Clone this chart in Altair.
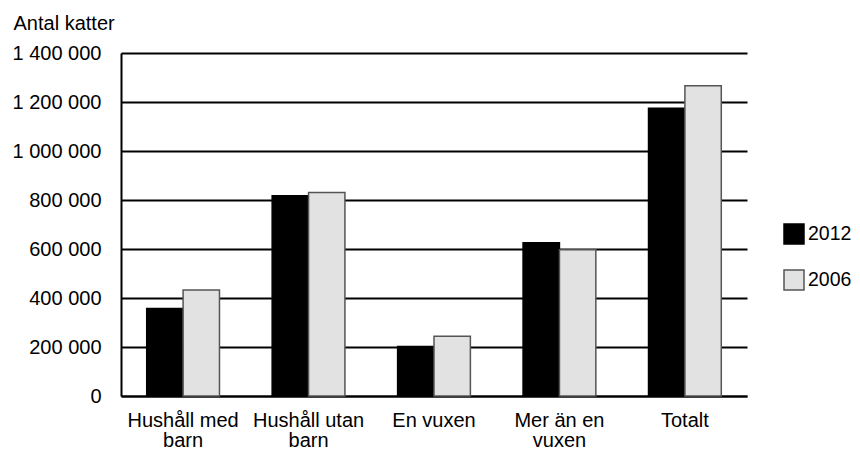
import altair as alt
import pandas as pd

categories = ["Hushåll med\nbarn", "Hushåll utan\nbarn", "En vuxen", "Mer än en\nvuxen", "Totalt"]
years = ["2012", "2006"]
values_2012 = [357000, 817000, 202000, 626000, 1175000]
values_2006 = [433000, 831000, 244000, 597000, 1266000]
y_ticks = [0, 200000, 400000, 600000, 800000, 1000000, 1200000, 1400000]

rows = []
for c, a, b in zip(categories, values_2012, values_2006):
    rows.append({"kategori": c, "år": "2012", "antal": a})
    rows.append({"kategori": c, "år": "2006", "antal": b})
df = pd.DataFrame(rows)

FONT = "Liberation Sans"

legend_kw = dict(title=None, orient="none", legendX=662, legendY=170,
                 symbolType="square", symbolSize=400,
                 symbolStrokeWidth=1.5, rowPadding=20,
                 labelOffset=3, labelFontSize=19.5, labelFont=FONT,
                 labelColor="black")

chart = alt.Chart(df).mark_bar(strokeWidth=1.5).encode(
    x=alt.X("kategori:N", sort=categories,
            scale=alt.Scale(paddingInner=0.42, paddingOuter=0.205),
            axis=alt.Axis(title=None, labelAngle=0, ticks=False,
                          labelExpr="split(datum.label, '\\n')",
                          labelFont=FONT, labelFontSize=20, labelColor="black",
                          labelLineHeight=20, labelPadding=14,
                          domain=True, domainColor="black", domainWidth=2,
                          grid=False)),
    xOffset=alt.XOffset("år:N", sort=years, scale=alt.Scale(paddingInner=0, paddingOuter=0)),
    y=alt.Y("antal:Q",
            scale=alt.Scale(domain=[0, 1400000], nice=False),
            axis=alt.Axis(values=y_ticks, ticks=False, labelPadding=20,
                          labelExpr="replace(format(datum.value, ','), regexp(',', 'g'), ' ')",
                          labelFont=FONT, labelFontSize=20, labelColor="black",
                          grid=True, gridColor="black", gridWidth=2,
                          domain=True, domainColor="black", domainWidth=2,
                          title="Antal katter", titleAngle=0, titleAlign="left",
                          titleBaseline="alphabetic", titleX=-108, titleY=-24,
                          titleFontWeight="normal", titleFontSize=20, titleFont=FONT,
                          titleColor="black")),
    color=alt.Color("år:N", sort=years,
                    scale=alt.Scale(domain=years, range=["#000000", "#e1e2e1"]),
                    legend=alt.Legend(**legend_kw)),
    stroke=alt.Stroke("år:N", sort=years,
                      scale=alt.Scale(domain=years, range=["#000000", "#555555"]),
                      legend=alt.Legend(**legend_kw)),
).properties(
    width=626, height=343,
    autosize=alt.AutoSizeParams(type="none"),
    padding={"left": 113, "top": 45, "right": 105, "bottom": 56},
    background="white",
).configure_view(
    stroke=None,
)

chart.save("out.html", embed_options={"renderer": "svg", "actions": False})
